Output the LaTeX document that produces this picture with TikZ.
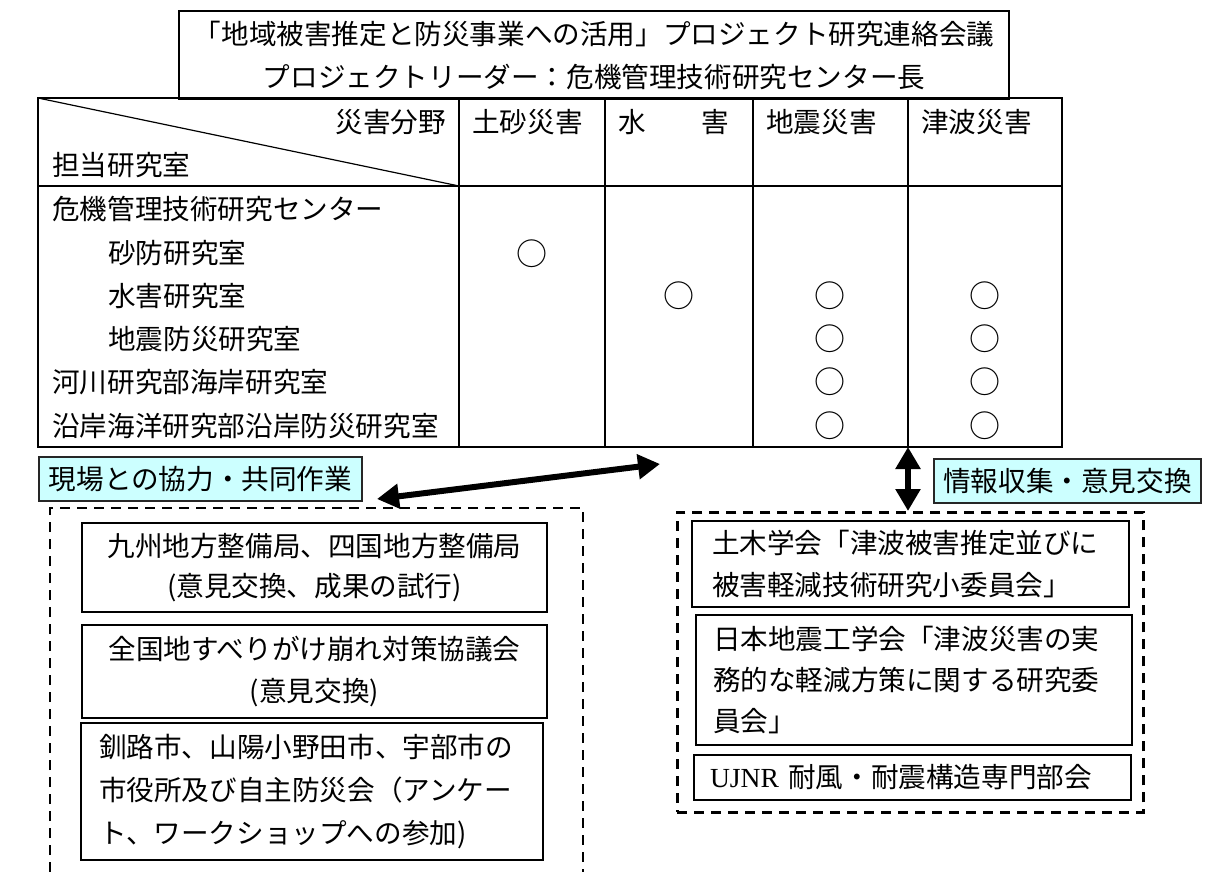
\documentclass[tikz,border=0pt]{standalone}
\usepackage{fontspec}
\setmainfont{Noto Sans CJK JP}
\newfontfamily\romanfont{Liberation Serif}
\usetikzlibrary{arrows.meta}
\definecolor{paleblue}{HTML}{CCFFFF}
\begin{document}
\begin{tikzpicture}[x=1pt,y=-1pt,
  font=\fontsize{27.6pt}{42pt}\selectfont,
  rule/.style={line width=2pt},
  cell/.style={inner sep=0pt},
  maru/.style={inner sep=0pt,font=\fontsize{31pt}{31pt}\selectfont},
  tag/.style={rectangle,draw=black!85,line width=2pt,fill=paleblue,inner sep=0pt,minimum height=44pt},
  member/.style={rectangle,draw=black,line width=2pt,inner sep=0pt},
  group/.style={draw=black,line width=2.6pt,dash pattern=on 10pt off 7pt},
  fat/.style={line width=6pt,{Triangle[length=22pt,width=24pt]}-{Triangle[length=22pt,width=24pt]}}]
\useasboundingbox (0,0) rectangle (1205,872);

\node (lead) at (178,10)[member,anchor=north west,minimum width=830pt,minimum height=88pt,align=center,font=\fontsize{27.6pt}{43pt}\selectfont]{「地域被害推定と防災事業への活用」プロジェクト研究連絡会議\\プロジェクトリーダー：危機管理技術研究センター長};

% table
\draw[rule] (38,98) rectangle (1062,447);
\draw[rule] (38,186) -- (1062,186);
\foreach \x in {459,605,753,908} \draw[rule] (\x,98) -- (\x,447);
\draw[line width=1.2pt] (38,98) -- (459,186);

\node (bunya) at (446,122)[cell,anchor=east]{災害分野};
\node (tanto) at (52,165)[cell,anchor=west]{担当研究室};
\node (dosha) at (472,122)[cell,anchor=west]{土砂災害};
\node (suigai) at (618,122)[cell,anchor=west]{水　　害};
\node (jishin) at (766,122)[cell,anchor=west]{地震災害};
\node (tsunami) at (921,122)[cell,anchor=west]{津波災害};

\node (r1) at (52,209)[cell,anchor=west]{危機管理技術研究センター};
\node (r2) at (108,253)[cell,anchor=west]{砂防研究室};
\node (r3) at (108,296)[cell,anchor=west]{水害研究室};
\node (r4) at (108,339)[cell,anchor=west]{地震防災研究室};
\node (r5) at (52,382)[cell,anchor=west]{河川研究部海岸研究室};
\node (r6) at (52,426)[cell,anchor=west]{沿岸海洋研究部沿岸防災研究室};

\node (m-2-1) at (532,254)[maru]{○};
\node (m-3-2) at (679,296)[maru]{○};
\foreach \r/\y in {3/296,4/339,5/382,6/426}{
  \node (m-\r-3) at (830,\y)[maru]{○};
  \node (m-\r-4) at (985,\y)[maru]{○};
}

% cooperation
\node (genba) at (38,456)[tag,anchor=north west,minimum width=323pt]{現場との協力・共同作業};
\node (joho) at (933,458)[tag,anchor=north west,minimum width=267pt]{情報収集・意見交換};

\draw[group] (50,872) -- (50,508) -- (583,508) -- (583,872);
\node (kyushu) at (81,522)[member,anchor=north west,minimum width=465pt,minimum height=89pt,align=center,font=\fontsize{27.6pt}{40pt}\selectfont]{九州地方整備局、四国地方整備局\\(意見交換、成果の試行)};
\node (zenkoku) at (81,624)[member,anchor=north west,minimum width=465pt,minimum height=93pt,align=center]{全国地すべりがけ崩れ対策協議会\\(意見交換)};
\node (kushiro) at (80,722)[member,anchor=north west,inner xsep=18pt,text width=426pt,minimum height=137pt,align=left,font=\fontsize{27.6pt}{43pt}\selectfont]{釧路市、山陽小野田市、宇部市の\\市役所及び自主防災会（アンケー\\ト、ワークショップへの参加)};

\node (gakkai) at (676,511)[group,anchor=north west,minimum width=466pt,minimum height=300pt]{};
\node (doboku) at (691,520)[member,anchor=north west,inner xsep=20pt,text width=397pt,minimum height=86pt,align=left]{土木学会「津波被害推定並びに\\被害軽減技術研究小委員会」};
\node (jsee) at (695,614)[member,anchor=north west,inner xsep=17pt,text width=402pt,minimum height=130pt,align=left,font=\fontsize{27.6pt}{41pt}\selectfont]{日本地震工学会「津波災害の実\\務的な軽減方策に関する研究委\\員会」};
\node (ujnr) at (693,754)[member,anchor=north west,inner xsep=16pt,text width=405pt,minimum height=45pt,align=left]{{\romanfont UJNR} 耐風・耐震構造専門部会};

\coordinate (p1) at (377,499);
\coordinate (p2) at (660,464);
\coordinate (tb) at (908,447);
\draw[fat] (p1) -- (p2);
\draw[fat] (tb) -- (tb |- gakkai.north);
\end{tikzpicture}
\end{document}
